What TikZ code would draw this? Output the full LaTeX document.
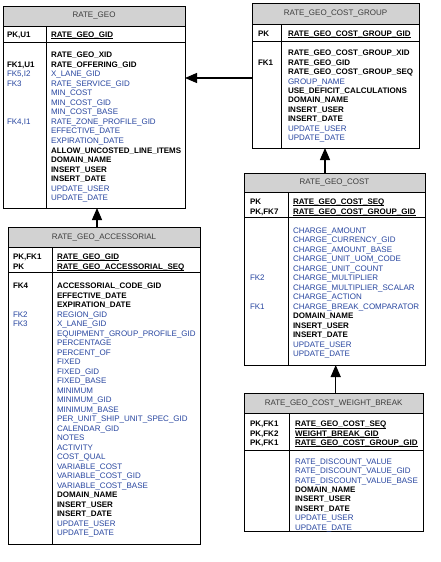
\documentclass[tikz,border=0pt]{standalone}
\usepackage{fontspec}
\setmainfont{Liberation Sans}
\usetikzlibrary{arrows.meta}
\definecolor{attrblue}{RGB}{40,70,160}
\definecolor{hdrgray}{RGB}{210,210,210}
\definecolor{titlegray}{RGB}{60,60,60}
\newcommand\kb[1]{\bfseries\color{black}#1}
\newsavebox\kpkbox
\newcommand\kpk[1]{\bfseries\color{black}\sbox\kpkbox{#1}\rlap{\rule[-1.7pt]{\wd\kpkbox}{0.6pt}}\usebox\kpkbox}
\newcommand\fieldrows[5]{%
  \foreach \t [count=\i from 0] in {#5} {\node[txt] (#1\i) at (#2,{#3+#4*\i}) {\t};}}
\tikzset{
  every node/.style={inner sep=0pt, outer sep=0pt},
  txt/.style={anchor=base west, font=\fontsize{8}{9.5}\selectfont, text=attrblue},
  lb/.style={txt, text=black, font=\fontsize{8}{9.5}\selectfont\bfseries},
  ln/.style={txt},
  tbl/.style={draw=black, line width=0.9pt, fill=white, anchor=north west},
  hdr/.style={draw=black, line width=0.9pt, fill=hdrgray, anchor=north west,
    font=\fontsize{8}{9.5}\selectfont, text=titlegray},
  sep/.style={draw=black, line width=0.9pt},
  conn/.style={line width=1.3pt, -{Triangle[length=12pt,width=10pt]}},
}
\begin{document}
\begin{tikzpicture}[x=1pt,y=-1pt]
\useasboundingbox (0,0) rectangle (440,562);

% ---------------- RATE_GEO ----------------
\node[tbl, minimum width=182pt, minimum height=202pt] (rg) at (3,6) {};
\node[hdr, minimum width=182pt, minimum height=20pt] (rgh) at (3,6) {RATE\_GEO};
\draw[sep] (rg.west |- 0,42) -- (rg.east |- 0,42);
\draw[sep] (rgh.south -| 46,0) -- (rg.south -| 46,0);
\node[lb] (rgl0) at (7,37) {PK,U1};
\node[txt] (rgpk0) at (51,37) {\kpk{RATE\_GEO\_GID}};
\fieldrows{rga}{51}{57.5}{9.55}{\kb{RATE\_GEO\_XID},\kb{RATE\_OFFERING\_GID},X\_LANE\_GID,RATE\_SERVICE\_GID,MIN\_COST,MIN\_COST\_GID,MIN\_COST\_BASE,RATE\_ZONE\_PROFILE\_GID,EFFECTIVE\_DATE,EXPIRATION\_DATE,\kb{ALLOW\_UNCOSTED\_LINE\_ITEMS},\kb{DOMAIN\_NAME},\kb{INSERT\_USER},\kb{INSERT\_DATE},UPDATE\_USER,UPDATE\_DATE}
\node[lb] (rgl1) at (7,{57.5+9.55*1}) {FK1,U1};
\node[ln] (rgl2) at (7,{57.5+9.55*2}) {FK5,I2};
\node[ln] (rgl3) at (7,{57.5+9.55*3}) {FK3};
\node[ln] (rgl4) at (7,{57.5+9.55*7}) {FK4,I1};

% ---------------- RATE_GEO_COST_GROUP ----------------
\node[tbl, minimum width=167pt, minimum height=145pt] (cg) at (252,3) {};
\node[hdr, minimum width=167pt, minimum height=21pt] (cgh) at (252,3) {RATE\_GEO\_COST\_GROUP};
\draw[sep] (cg.west |- 0,41) -- (cg.east |- 0,41);
\draw[sep] (cgh.south -| 281,0) -- (cg.south -| 281,0);
\node[lb] (cgl0) at (258,36) {PK};
\node[txt] (cgpk0) at (288,36) {\kpk{RATE\_GEO\_COST\_GROUP\_GID}};
\fieldrows{cga}{288}{55.7}{9.44}{\kb{RATE\_GEO\_COST\_GROUP\_XID},\kb{RATE\_GEO\_GID},\kb{RATE\_GEO\_COST\_GROUP\_SEQ},GROUP\_NAME,\kb{USE\_DEFICIT\_CALCULATIONS},\kb{DOMAIN\_NAME},\kb{INSERT\_USER},\kb{INSERT\_DATE},UPDATE\_USER,UPDATE\_DATE}
\node[lb] (cgl1) at (258,{55.7+9.44}) {FK1};

% ---------------- RATE_GEO_ACCESSORIAL ----------------
\node[tbl, minimum width=192pt, minimum height=317pt] (acc) at (8,227) {};
\node[hdr, minimum width=192pt, minimum height=20pt] (acch) at (8,227) {RATE\_GEO\_ACCESSORIAL};
\draw[sep] (acc.west |- 0,272) -- (acc.east |- 0,272);
\draw[sep] (acch.south -| 52,0) -- (acc.south -| 52,0);
\node[lb] (accl0) at (13,259.2) {PK,FK1};
\node[lb] (accl1) at (13,269.2) {PK};
\node[txt] (accpk0) at (57,259.2) {\kpk{RATE\_GEO\_GID}};
\node[txt] (accpk1) at (57,269.2) {\kpk{RATE\_GEO\_ACCESSORIAL\_SEQ}};
\fieldrows{acca}{57}{288.5}{9.51}{\kb{ACCESSORIAL\_CODE\_GID},\kb{EFFECTIVE\_DATE},\kb{EXPIRATION\_DATE},REGION\_GID,X\_LANE\_GID,EQUIPMENT\_GROUP\_PROFILE\_GID,PERCENTAGE,PERCENT\_OF,FIXED,FIXED\_GID,FIXED\_BASE,MINIMUM,MINIMUM\_GID,MINIMUM\_BASE,PER\_UNIT\_SHIP\_UNIT\_SPEC\_GID,CALENDAR\_GID,NOTES,ACTIVITY,COST\_QUAL,VARIABLE\_COST,VARIABLE\_COST\_GID,VARIABLE\_COST\_BASE,\kb{DOMAIN\_NAME},\kb{INSERT\_USER},\kb{INSERT\_DATE},UPDATE\_USER,UPDATE\_DATE}
\node[lb] (accl2) at (13,288.5) {FK4};
\node[ln] (accl3) at (13,{288.5+9.51*3}) {FK2};
\node[ln] (accl4) at (13,{288.5+9.51*4}) {FK3};

% ---------------- RATE_GEO_COST ----------------
\node[tbl, minimum width=181pt, minimum height=192pt] (cost) at (244,173) {};
\node[hdr, minimum width=181pt, minimum height=19.3pt] (costh) at (244,173) {RATE\_GEO\_COST};
\draw[sep] (cost.west |- 0,217.3) -- (cost.east |- 0,217.3);
\draw[sep] (costh.south -| 288,0) -- (cost.south -| 288,0);
\node[lb] (costl0) at (250,204.2) {PK};
\node[lb] (costl1) at (250,214.2) {PK,FK7};
\node[txt] (costpk0) at (293,204.2) {\kpk{RATE\_GEO\_COST\_SEQ}};
\node[txt] (costpk1) at (293,214.2) {\kpk{RATE\_GEO\_COST\_GROUP\_GID}};
\fieldrows{costa}{293}{233.5}{9.49}{CHARGE\_AMOUNT,CHARGE\_CURRENCY\_GID,CHARGE\_AMOUNT\_BASE,CHARGE\_UNIT\_UOM\_CODE,CHARGE\_UNIT\_COUNT,CHARGE\_MULTIPLIER,CHARGE\_MULTIPLIER\_SCALAR,CHARGE\_ACTION,CHARGE\_BREAK\_COMPARATOR,\kb{DOMAIN\_NAME},\kb{INSERT\_USER},\kb{INSERT\_DATE},UPDATE\_USER,UPDATE\_DATE}
\node[ln] (costl2) at (250,{233.5+9.49*5}) {FK2};
\node[ln] (costl3) at (250,{233.5+9.49*8}) {FK1};

% ---------------- RATE_GEO_COST_WEIGHT_BREAK ----------------
\node[tbl, minimum width=179.3pt, minimum height=138.4pt] (wb) at (244,393.3) {};
\node[hdr, minimum width=179.3pt, minimum height=20pt] (wbh) at (244,393.3) {RATE\_GEO\_COST\_WEIGHT\_BREAK};
\draw[sep] (wb.west |- 0,450) -- (wb.east |- 0,450);
\draw[sep] (wbh.south -| 289.3,0) -- (wb.south -| 289.3,0);
\node[lb] (wbl0) at (250,426.8) {PK,FK1};
\node[lb] (wbl1) at (250,436.3) {PK,FK2};
\node[lb] (wbl2) at (250,445.2) {PK,FK1};
\node[txt] (wbpk0) at (295,426.8) {\kpk{RATE\_GEO\_COST\_SEQ}};
\node[txt] (wbpk1) at (295,436.3) {\kpk{WEIGHT\_BREAK\_GID}};
\node[txt] (wbpk2) at (295,445.2) {\kpk{RATE\_GEO\_COST\_GROUP\_GID}};
\fieldrows{wba}{295}{464.2}{9.43}{RATE\_DISCOUNT\_VALUE,RATE\_DISCOUNT\_VALUE\_GID,RATE\_DISCOUNT\_VALUE\_BASE,\kb{DOMAIN\_NAME},\kb{INSERT\_USER},\kb{INSERT\_DATE},UPDATE\_USER,UPDATE\_DATE}

% ---------------- connectors ----------------
\draw[conn] (cg.west |- 0,78) -- (rg.east |- 0,78);
\draw[conn] (acc.north -| 97,0) -- (rg.south -| 97,0);
\draw[conn] (cost.north -| 325,0) -- (cg.south -| 325,0);
\draw[conn] (wb.north -| 335.7,0) -- (cost.south -| 335.7,0);
\end{tikzpicture}
\end{document}
